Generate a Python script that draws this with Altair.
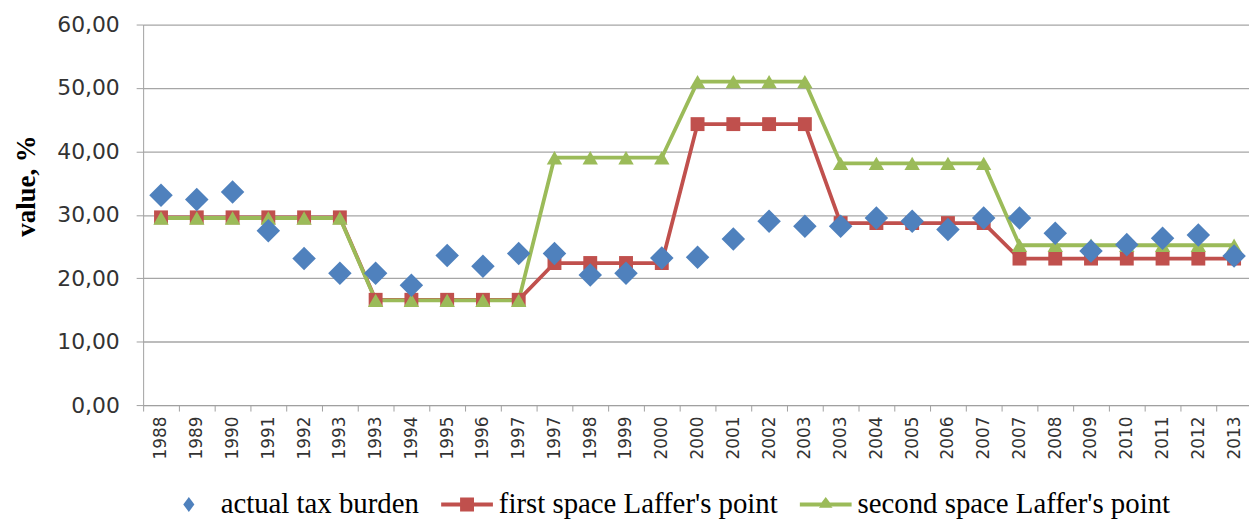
import altair as alt
import pandas as pd

labels = ["1988", "1989", "1990", "1991", "1992", "1993", "1993", "1994", "1995", "1996",
          "1997", "1997", "1998", "1999", "2000", "2000", "2001", "2002", "2003", "2003",
          "2004", "2005", "2006", "2007", "2007", "2008", "2009", "2010", "2011", "2012", "2013"]

actual = [33.1, 32.4, 33.6, 27.5, 23.1, 20.8, 20.8, 18.9, 23.6, 21.9,
          23.9, 23.9, 20.5, 20.8, 23.2, 23.3, 26.2, 29.0, 28.2, 28.2,
          29.5, 29.0, 27.7, 29.5, 29.5, 27.1, 24.3, 25.3, 26.3, 26.8, 23.5]

first = [29.6, 29.6, 29.6, 29.6, 29.6, 29.6, 16.6, 16.6, 16.6, 16.6,
         16.6, 22.4, 22.4, 22.4, 22.4, 44.3, 44.3, 44.3, 44.3, 28.7,
         28.7, 28.7, 28.7, 28.7, 23.1, 23.1, 23.1, 23.1, 23.1, 23.1, 23.1]

second = [29.5, 29.5, 29.5, 29.5, 29.5, 29.5, 16.5, 16.5, 16.5, 16.5,
          16.5, 39.0, 39.0, 39.0, 39.0, 51.0, 51.0, 51.0, 51.0, 38.1,
          38.1, 38.1, 38.1, 38.1, 25.2, 25.2, 25.2, 25.2, 25.2, 25.2, 25.2]

names = ["actual tax burden", "first space Laffer's point", "second space Laffer's point"]
colors = ["#4F81BD", "#C0504D", "#9BBB59"]

legend_paths = [
    "M0,-0.27L0.2,0L0,0.27L-0.2,0Z",
    "M-0.93,-0.07H-0.25V-0.25H0.25V-0.07H0.93V0.07H0.25V0.25H-0.25V0.07H-0.93Z",
    "M-0.93,-0.07H-0.15L0,-0.27L0.15,-0.07H0.93V0.07H0.2L0.25,0.12H-0.25L-0.2,0.07H-0.93Z",
]

rows = []
for i in range(len(labels)):
    rows.append({"pos": i, "series": names[0], "value": actual[i]})
    rows.append({"pos": i, "series": names[1], "value": first[i]})
    rows.append({"pos": i, "series": names[2], "value": second[i]})
df = pd.DataFrame(rows)

label_expr = "[" + ",".join("'%s'" % l for l in labels) + "][datum.value]"

grey = "#a0a0a0"
x = alt.X(
    "pos:O",
    scale=alt.Scale(type="band", paddingInner=0, paddingOuter=0, range=[0, 1116]),
    axis=alt.Axis(
        title=None, labelExpr=label_expr, labelAngle=270, labelFont="DejaVu Sans",
        labelFontSize=17, labelColor="#333333", tickBand="extent", domainColor=grey,
        tickColor=grey, tickSize=6, labelPadding=5, grid=False,
    ),
)
y = alt.Y(
    "value:Q",
    scale=alt.Scale(domain=[0, 60]),
    axis=alt.Axis(
        values=[0, 10, 20, 30, 40, 50, 60],
        labelExpr="replace(format(datum.value, '.2f'), '.', ',')",
        title="value, %", titleFont="Liberation Serif", titleFontSize=27,
        titleFontWeight="bold", titleColor="black", titleAngle=270,
        titleX=-109, titleY=162, titleAlign="center", titleBaseline="alphabetic",
        labelFont="DejaVu Sans", labelFontSize=22, labelColor="#333333",
        labelPadding=17, tickSize=7, tickColor=grey, domainColor=grey,
        gridColor="#a6a6a6", gridWidth=1.3,
    ),
)

base = alt.Chart(df)

red_line = base.transform_filter(alt.datum.series == names[1]).mark_line(
    color=colors[1], strokeWidth=3.8).encode(x=x, y=y)
green_line = base.transform_filter(alt.datum.series == names[2]).mark_line(
    color=colors[2], strokeWidth=3.8).encode(x=x, y=y)
red_pts = base.transform_filter(alt.datum.series == names[1]).mark_point(
    shape="square", filled=True, size=196, color=colors[1], opacity=1).encode(x=x, y=y)
green_pts = base.transform_filter(alt.datum.series == names[2]).mark_point(
    shape="triangle-up", filled=True, size=240, color=colors[2], opacity=1).encode(x=x, y=y)
blue_pts = base.transform_filter(alt.datum.series == names[0]).mark_point(
    shape="diamond", filled=True, size=560, color=colors[0], opacity=1).encode(x=x, y=y)

leg = alt.Legend(
    orient="none", legendX=18, legendY=455, direction="horizontal", title=None,
    symbolSize=3136, symbolStrokeWidth=0, symbolOpacity=1,
    labelFont="Liberation Serif", labelFontSize=29, labelColor="black",
    labelLimit=600, columnPadding=20, labelOffset=4,
)
legend_layer = base.mark_point(filled=True, opacity=0).encode(
    x=x, y=y,
    color=alt.Color("series:N", scale=alt.Scale(domain=names, range=colors), legend=leg),
    shape=alt.Shape("series:N", scale=alt.Scale(domain=names, range=legend_paths), legend=leg),
)

chart = alt.layer(red_line, green_line, red_pts, green_pts, blue_pts, legend_layer).properties(
    width=1113, height=383,
    autosize=alt.AutoSizeParams(type="none"),
    padding={"left": 136, "top": 15, "right": 0, "bottom": 114},
    background="white",
).configure_view(stroke=None)

chart.save("out.html", embed_options={"renderer": "svg", "actions": False})
